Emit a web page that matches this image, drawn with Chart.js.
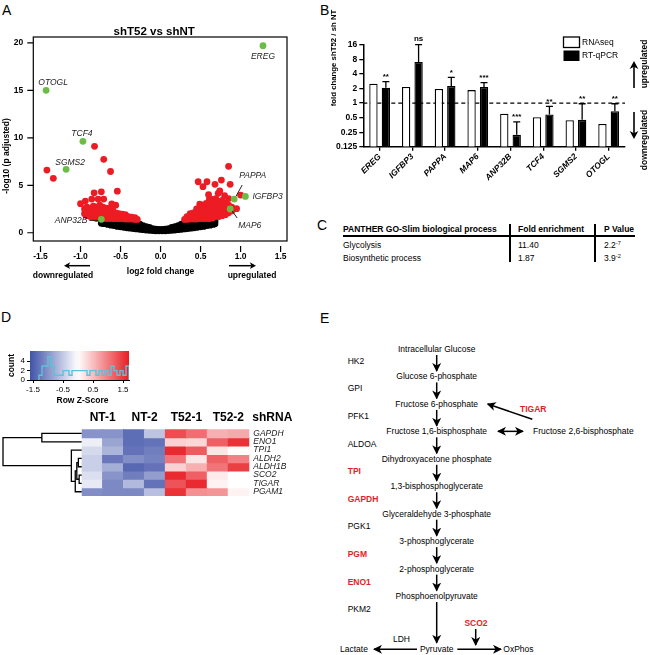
<!DOCTYPE html>
<html>
<head>
<meta charset="utf-8">
<title>shT52 vs shNT</title>
<script src="https://cdn.jsdelivr.net/npm/chart.js@4.4.1/dist/chart.umd.min.js"></script>
<style>
  html, body { margin: 0; padding: 0; background: #fff; }
  body { font-family: "Liberation Sans", Arial, sans-serif; color: #000; }
  #fig { position: relative; width: 650px; height: 655px; overflow: hidden; }
  #fig canvas, #fig svg, .abs { position: absolute; }
  .panel { font-size: 14px; line-height: 14px; }
  .tbl { font-size: 8.5px; line-height: 10px; white-space: nowrap; }
  .tbl sup { font-size: 5.5px; vertical-align: 3px; line-height: 0; }
  .rule { position: absolute; background: #000; }
</style>
</head>
<body>
<div id="fig">
  <div class="abs panel" style="left:2px;top:3px">A</div>
  <div class="abs panel" style="left:320px;top:3px">B</div>
  <div class="abs panel" style="left:317px;top:218px">C</div>
  <div class="abs panel" style="left:1px;top:310px">D</div>
  <div class="abs panel" style="left:320px;top:311px">E</div>

  <canvas id="volcano" width="300" height="290" style="left:0;top:0"></canvas>
  <canvas id="foldBars" width="320" height="220" style="left:330px;top:0"></canvas>

  <div id="goTable"></div>
  <div class="rule" style="left:343px;top:235px;width:292px;height:2px"></div>
  <div class="rule" style="left:509px;top:224px;width:1.5px;height:38px"></div>
  <div class="rule" style="left:594px;top:224px;width:1.5px;height:38px"></div>

  <canvas id="zKey" width="140" height="70" style="left:0;top:340px"></canvas>
  <canvas id="heatmap" width="300" height="100" style="left:0;top:405px"></canvas>

  <svg id="pathway" width="320" height="355" viewBox="330 300 320 355" style="left:330px;top:300px">
    <defs>
      <marker id="head" markerUnits="userSpaceOnUse" markerWidth="9" markerHeight="9" refX="8" refY="4.5" orient="auto-start-reverse">
        <path d="M0,0 L9,4.5 L0,9 L2.5,4.5 z" fill="#000"/>
      </marker>
    </defs>
  </svg>
</div>

<script>
// ---------- A: volcano plot ----------
const volcanoGenes = ['EREG', 'OTOGL', 'TCF4', 'SGMS2', 'ANP32B', 'PAPPA', 'IGFBP3', 'MAP6'];
const geneLog2FC = [1.28, -1.43, -0.97, -1.18, -0.74, 0.92, 1.06, 0.87];
const geneNegLogP = [19.7, 15.0, 9.63, 6.68, 1.41, 3.55, 3.83, 2.5];

const redPoints = [
  [-1.42,6.6],[-1.34,5.73],[-0.825,9.1],[-0.71,7.73],[-0.625,6.45],[-0.54,4.38],[-0.83,4.21],[-0.74,4.31],
  [-0.78,3.55],[-0.71,3.55],[-0.86,3.55],[-1.0,3.06],[-0.94,3.34],[-0.61,3.05],[-0.56,2.9],
  [-0.95,2.0],[-0.95,2.5],[-0.92,1.8],[-0.92,2.3],[-0.92,2.7],[-0.88,1.7],[-0.88,2.1],[-0.88,2.5],
  [-0.84,1.6],[-0.84,2.0],[-0.84,2.4],[-0.84,2.8],[-0.80,1.5],[-0.80,1.9],[-0.80,2.3],[-0.80,2.7],
  [-0.76,1.6],[-0.76,2.0],[-0.76,2.4],[-0.76,2.9],[-0.72,1.55],[-0.72,1.9],[-0.72,2.3],[-0.72,2.7],
  [-0.68,1.5],[-0.68,1.85],[-0.68,2.2],[-0.68,2.6],[-0.64,1.5],[-0.64,1.8],[-0.64,2.2],[-0.64,2.6],
  [-0.60,1.5],[-0.60,1.8],[-0.60,2.2],[-0.60,2.5],[-0.56,1.5],[-0.56,1.75],[-0.56,2.1],
  [-0.52,1.5],[-0.52,1.7],[-0.52,2.0],[-0.48,1.5],[-0.48,1.7],[-0.48,1.95],[-0.44,1.45],[-0.44,1.7],[-0.44,1.9],
  [-0.40,1.45],[-0.40,1.7],[-0.36,1.45],[-0.36,1.65],[-0.32,1.4],[-0.32,1.6],[-0.29,1.4],
  [0.30,1.4],[0.33,1.4],[0.33,1.7],[0.37,1.45],[0.37,1.75],[0.37,2.0],[0.41,1.45],[0.41,1.75],[0.41,2.1],
  [0.45,1.45],[0.45,1.8],[0.45,2.2],[0.45,2.5],[0.49,1.5],[0.49,1.8],[0.49,2.2],[0.49,2.6],[0.49,3.0],
  [0.53,1.5],[0.53,1.8],[0.53,2.2],[0.53,2.6],[0.53,2.9],[0.57,1.5],[0.57,1.85],[0.57,2.25],[0.57,2.65],[0.57,3.1],
  [0.61,1.5],[0.61,1.85],[0.61,2.25],[0.61,2.65],[0.61,3.0],[0.61,3.5],
  [0.65,1.55],[0.65,1.9],[0.65,2.3],[0.65,2.7],[0.65,3.1],[0.65,3.5],
  [0.69,1.7],[0.69,2.0],[0.69,2.4],[0.69,2.8],[0.69,3.2],[0.69,3.6],
  [0.73,1.7],[0.73,2.1],[0.73,2.5],[0.73,2.9],[0.73,3.3],[0.77,1.8],[0.77,2.2],[0.77,2.6],[0.77,3.0],[0.77,3.4],
  [0.81,1.9],[0.81,2.3],[0.81,2.7],[0.81,3.1],[0.85,2.1],[0.85,2.5],[0.85,2.9],[0.89,2.3],[0.89,2.7],
  [0.47,5.37],[0.58,5.37],[0.53,4.85],[0.76,5.55],[0.68,5.1],[0.87,5.1],[0.72,4.15],[0.74,4.4],[0.85,7.0],
  [0.95,2.53],[1.0,3.97],[0.85,3.6],[0.60,4.0],[0.80,3.9]
];

const blackPoints = [
  [-0.74,1.0],[-0.74,1.3],[-0.72,1.0],[-0.72,1.28],[-0.70,0.95],[-0.70,1.25],
  [-0.66,0.88],[-0.66,1.08],[-0.66,1.28],[-0.62,0.8],[-0.62,1.05],[-0.62,1.3],
  [-0.58,0.75],[-0.58,1.0],[-0.58,1.25],[-0.54,0.67],[-0.54,0.95],[-0.54,1.25],
  [-0.50,0.62],[-0.50,0.92],[-0.50,1.22],[-0.46,0.57],[-0.46,0.87],[-0.46,1.2],
  [-0.42,0.52],[-0.42,0.85],[-0.42,1.2],[-0.38,0.48],[-0.38,0.8],[-0.38,1.15],
  [-0.34,0.44],[-0.34,0.75],[-0.34,1.1],[-0.30,0.4],[-0.30,0.7],[-0.30,1.05],
  [-0.26,0.36],[-0.26,0.62],[-0.26,0.9],[-0.22,0.32],[-0.22,0.55],[-0.22,0.75],
  [-0.18,0.29],[-0.18,0.5],[-0.18,0.65],[-0.14,0.26],[-0.14,0.45],[-0.14,0.55],
  [-0.10,0.23],[-0.10,0.42],[-0.06,0.21],[-0.06,0.38],[-0.02,0.2],[-0.02,0.35],
  [0.02,0.2],[0.02,0.35],[0.06,0.21],[0.06,0.38],[0.10,0.23],[0.10,0.42],
  [0.14,0.26],[0.14,0.45],[0.14,0.55],[0.18,0.29],[0.18,0.5],[0.18,0.65],
  [0.22,0.32],[0.22,0.55],[0.22,0.75],[0.26,0.36],[0.26,0.62],[0.26,0.9],
  [0.30,0.4],[0.30,0.7],[0.30,1.05],[0.34,0.44],[0.34,0.75],[0.34,1.1],
  [0.38,0.48],[0.38,0.8],[0.38,1.15],[0.42,0.52],[0.42,0.85],[0.42,1.2],
  [0.46,0.57],[0.46,0.87],[0.46,1.2],[0.50,0.62],[0.50,0.92],[0.50,1.22],
  [0.54,0.67],[0.54,0.95],[0.54,1.25],[0.58,0.75],[0.58,1.0],[0.58,1.25],
  [0.62,0.8],[0.62,1.05],[0.62,1.3],[0.66,0.88],[0.66,1.1],[0.66,1.35],
  [0.68,0.95],[0.68,1.2],[0.68,1.45]
];
const volcanoXTicks = [-1.5, -1, -0.5, 0, 0.5, 1, 1.5];
const volcanoYTicks = [0, 5, 10, 15, 20];

// ---------- B: validation bars ----------
const validatedGenes = ['EREG', 'IGFBP3', 'PAPPA', 'MAP6', 'ANP32B', 'TCF4', 'SGMS2', 'OTOGL'];
const rnaseqFold = [2.53, 2.15, 1.97, 1.86, 0.60, 0.51, 0.44, 0.37];
const qpcrFold = [2.09, 7.1, 2.25, 2.15, 0.22, 0.58, 0.45, 0.68];
const qpcrErrTop = [2.78, 16.3, 3.42, 2.65, 0.41, 0.86, 0.97, 0.97];
const significance = ['**', 'ns', '*', '***', '***', '**', '**', '**'];
const foldTicks = [0.125, 0.25, 0.5, 1, 2, 4, 8, 16];

// ---------- C: GO table ----------
const goTerms = ['Glycolysis', 'Biosynthetic process'];
const goFold = ['11.40', '1.87'];
const goPBase = ['2.2', '3.9'];
const goPExp = ['-7', '-2'];

// ---------- D: heatmap ----------
const zKeyTicks = [-1.5, -0.5, 0.5, 1.5];
const countTicks = [0, 2, 4];
const histEdges = [-1.3,-1.2,-1.1,-1.0,-0.9,-0.8,-0.7,-0.6,-0.5,-0.4,-0.3,-0.2,-0.1,0.0,0.1,0.2,0.3,0.4,0.5,0.6,0.7,0.8,0.9,1.0,1.1,1.2,1.3,1.4,1.5,1.6,1.7];
const histCounts = [1,3,3,5,3,1,1,1,2,2,1,2,2,2,2,2,1,2,2,1,2,1,2,1,3,2,1,2,1,3];

const heatGenes = ['GAPDH', 'ENO1', 'TPI1', 'ALDH2', 'ALDH1B', 'SCO2', 'TIGAR', 'PGAM1'];
const heatColumns = ['NT-1 a', 'NT-1 b', 'NT-2 a', 'NT-2 b', 'T52-1 a', 'T52-1 b', 'T52-2 a', 'T52-2 b'];
const heatGroups = ['NT-1', 'NT-2', 'T52-1', 'T52-2'];
const zScores = [
  [-1.0, -1.0, -1.35, -0.55, 1.35, 1.1, 0.6, 0.65],
  [-0.15, -0.85, -1.35, -1.3, 0.35, 0.3, 1.2, 1.55],
  [-0.35, -0.7, -1.3, -1.2, 1.6, 1.25, 0.2, 0.02],
  [-0.45, -1.25, -1.05, -1.15, 1.05, 0.2, 1.2, 0.95],
  [-0.45, -0.75, -1.4, -1.3, 0.35, 0.6, 1.05, 1.45],
  [-0.3, -1.0, -1.2, -0.9, 1.6, 1.2, 0.15, 0.0],
  [-0.2, -1.1, -0.65, -1.3, 1.3, 1.6, 0.1, 0.0],
  [-1.05, -1.1, -1.1, -0.6, 1.55, 0.85, 0.8, 0.1]
];
// hclust-style merges: negative = leaf (1-based row), positive = earlier merge
const dendroLeft = [-6, -4, 2, 3, -3, -1, 6];
const dendroRight = [-7, -5, 1, -8, 4, -2, 5];
const dendroHeight = [0.02, 0.03, 0.05, 0.07, 0.12, 0.5, 1.0];

// ---------- E: pathway ----------
const metabolites = ['Intracellular Glucose', 'Glucose 6-phosphate', 'Fructose 6-phosphate', 'Fructose 1,6-bisphosphate',
  'Dihydroxyacetone phosphate', '1,3-bisphosphoglycerate', 'Glyceraldehyde 3-phosphate', '3-phosphoglycerate',
  '2-phosphoglycerate', 'Phosphoenolpyruvate'];
const enzymes = ['HK2', 'GPI', 'PFK1', 'ALDOA', 'TPI', 'GAPDH', 'PGK1', 'PGM', 'ENO1', 'PKM2'];
const enzymeChanged = [false, false, false, false, true, true, false, true, true, false];

const FONT = '"Liberation Sans", Arial, sans-serif';
Chart.defaults.font.family = FONT;
Chart.defaults.color = '#000';

function zColor(z) {
  const t = Math.max(-1, Math.min(1, z / 1.7));
  const end = t < 0 ? [52, 72, 163] : [232, 30, 36];
  const a = Math.abs(t);
  const c = end.map(v => Math.round(255 + (v - 255) * a));
  return 'rgb(' + c.join(',') + ')';
}

function arrow(ctx, x1, y1, x2, y2, head) {
  const ang = Math.atan2(y2 - y1, x2 - x1);
  ctx.beginPath();
  ctx.moveTo(x1, y1);
  ctx.lineTo(x2 - Math.cos(ang) * head * 0.6, y2 - Math.sin(ang) * head * 0.6);
  ctx.stroke();
  ctx.beginPath();
  ctx.moveTo(x2, y2);
  ctx.lineTo(x2 - head * Math.cos(ang - 0.5), y2 - head * Math.sin(ang - 0.5));
  ctx.lineTo(x2 - head * 0.65 * Math.cos(ang), y2 - head * 0.65 * Math.sin(ang));
  ctx.lineTo(x2 - head * Math.cos(ang + 0.5), y2 - head * Math.sin(ang + 0.5));
  ctx.closePath();
  ctx.fill();
}

const geneLabelOffsets = {
  EREG: { dx: 0, dy: 11, align: 'center' },
  OTOGL: { dx: 7, dy: -8, align: 'center' },
  TCF4: { dx: -1, dy: -8, align: 'center' },
  SGMS2: { dx: 4, dy: -7, align: 'center' },
  ANP32B: { dx: -14, dy: 1, align: 'right', line: [-12, 1, -3, 1] },
  PAPPA: { dx: 5, dy: -23, align: 'left', line: [2, -3, 8, -14] },
  IGFBP3: { dx: 7, dy: 0, align: 'left' },
  MAP6: { dx: 8, dy: 17, align: 'left', line: [2, 2, 7, 9] }
};

const volcanoDecor = {
  id: 'volcanoDecor',
  afterDraw(chart) {
    const { ctx, chartArea: a, scales: { x, y } } = chart;
    ctx.save();
    ctx.strokeStyle = '#000';
    ctx.fillStyle = '#000';
    ctx.lineWidth = 1.2;
    ctx.strokeRect(a.left, a.top, a.right - a.left, a.bottom - a.top);
    ctx.beginPath();
    x.ticks.forEach(t => {
      const px = x.getPixelForValue(t.value);
      ctx.moveTo(px, a.bottom + 5); ctx.lineTo(px, a.bottom + 11);
    });
    y.ticks.forEach(t => {
      const py = y.getPixelForValue(t.value);
      ctx.moveTo(a.left - 6, py); ctx.lineTo(a.left, py);
    });
    ctx.stroke();

    ctx.textAlign = 'center';
    ctx.textBaseline = 'alphabetic';
    ctx.font = 'bold 11.5px ' + FONT;
    ctx.fillText('shT52 vs shNT', (a.left + a.right) / 2 - 6, a.top - 2);

    ctx.font = 'bold 8.5px ' + FONT;
    ctx.textBaseline = 'middle';
    ctx.fillText('log2 fold change', x.getPixelForValue(0), 272);
    ctx.fillText('downregulated', 63, 276);
    ctx.fillText('upregulated', 252, 276);
    ctx.lineWidth = 1.5;
    arrow(ctx, 90, 265.7, 64, 265.7, 7);
    arrow(ctx, 229, 265.7, 256, 265.7, 7);
    ctx.save();
    ctx.translate(7, 156);
    ctx.rotate(-Math.PI / 2);
    ctx.fillText('-log10 (p adjusted)', 0, 0);
    ctx.restore();

    ctx.font = 'italic 8.5px ' + FONT;
    ctx.fillStyle = '#222';
    ctx.strokeStyle = '#222';
    ctx.lineWidth = 1;
    volcanoGenes.forEach((g, i) => {
      const px = x.getPixelForValue(geneLog2FC[i]);
      const py = y.getPixelForValue(geneNegLogP[i]);
      const o = geneLabelOffsets[g];
      ctx.textAlign = o.align;
      ctx.fillText(g, px + o.dx, py + o.dy);
      if (o.line) {
        ctx.beginPath();
        ctx.moveTo(px + o.line[0], py + o.line[1]);
        ctx.lineTo(px + o.line[2], py + o.line[3]);
        ctx.stroke();
      }
    });
    ctx.restore();
  }
};

new Chart(document.getElementById('volcano'), {
  type: 'scatter',
  data: {
    datasets: [
      { label: 'validated genes', data: volcanoGenes.map((g, i) => ({ x: geneLog2FC[i], y: geneNegLogP[i] })),
        backgroundColor: '#6cbd45', pointRadius: 3.4, pointBorderWidth: 0 },
      { label: 'padj < 0.05', data: redPoints.map(p => ({ x: p[0], y: p[1] })),
        backgroundColor: '#ec1c24', pointRadius: 3.4, pointBorderWidth: 0 },
      { label: 'not significant', data: blackPoints.map(p => ({ x: p[0], y: p[1] })),
        backgroundColor: '#000', pointRadius: 3.4, pointBorderWidth: 0 }
    ]
  },
  options: {
    responsive: false, animation: false, devicePixelRatio: 1, events: [],
    layout: { padding: { top: 37, right: 13 } },
    plugins: { legend: { display: false }, tooltip: { enabled: false } },
    scales: {
      x: {
        type: 'linear', min: -1.59, max: 1.58,
        afterBuildTicks: s => { s.ticks = volcanoXTicks.map(v => ({ value: v })); },
        afterFit: s => { s.height = 49; },
        grid: { display: false, drawTicks: false }, border: { display: false },
        ticks: { autoSkip: false, padding: 11, font: { size: 8.5, weight: 'bold' }, callback: v => v.toFixed(1) }
      },
      y: {
        type: 'linear', min: -0.87, max: 20.62,
        afterBuildTicks: s => { s.ticks = volcanoYTicks.map(v => ({ value: v })); },
        afterFit: s => { s.width = 33.3; },
        grid: { display: false, drawTicks: false }, border: { display: false },
        ticks: { autoSkip: false, padding: 10, font: { size: 8.5, weight: 'bold' } }
      }
    }
  },
  plugins: [volcanoDecor]
});

// ---------- B ----------
const foldDecor = {
  id: 'foldDecor',
  beforeDatasetsDraw(chart) {
    const { ctx, chartArea: a, scales: { y } } = chart;
    const py = y.getPixelForValue(1);
    ctx.save();
    ctx.setLineDash([4, 3]);
    ctx.lineWidth = 1.4;
    ctx.strokeStyle = '#000';
    ctx.beginPath(); ctx.moveTo(a.left, py); ctx.lineTo(a.right, py); ctx.stroke();
    ctx.restore();
  },
  afterDatasetsDraw(chart) {
    const { ctx, scales: { y } } = chart;
    const meta = chart.getDatasetMeta(1);
    ctx.save();
    ctx.strokeStyle = '#000';
    ctx.fillStyle = '#000';
    ctx.lineWidth = 1.3;
    ctx.font = 'bold 8px ' + FONT;
    ctx.textAlign = 'center';
    ctx.textBaseline = 'alphabetic';
    meta.data.forEach((bar, i) => {
      const top = y.getPixelForValue(qpcrErrTop[i]);
      ctx.beginPath();
      ctx.moveTo(bar.x, bar.y); ctx.lineTo(bar.x, top);
      ctx.moveTo(bar.x - 3.5, top); ctx.lineTo(bar.x + 3.5, top);
      ctx.stroke();
      const lab = significance[i];
      ctx.fillText(lab, bar.x, top - (lab === 'ns' ? 3.5 : 2.5));
    });
    ctx.restore();
  },
  afterDraw(chart) {
    const { ctx } = chart;
    const ds = chart.data.datasets;
    ctx.save();
    ctx.lineWidth = 1.3;
    ctx.strokeStyle = '#000';
    ctx.fillStyle = '#fff';
    ctx.fillRect(233.5, 37, 16, 10.5);
    ctx.strokeRect(233.5, 37, 16, 10.5);
    ctx.fillStyle = '#000';
    ctx.fillRect(233.5, 50.5, 16, 10.5);
    ctx.font = '8.5px ' + FONT;
    ctx.textAlign = 'left';
    ctx.textBaseline = 'middle';
    ctx.fillText(ds[0].label, 252, 42.3);
    ctx.fillText(ds[1].label, 252, 55.8);

    ctx.font = 'bold 7.8px ' + FONT;
    ctx.textAlign = 'center';
    ctx.save(); ctx.translate(4, 58); ctx.rotate(-Math.PI / 2);
    ctx.fillText('fold change shT52 / sh NT', 0, 0); ctx.restore();

    ctx.font = 'bold 8.5px ' + FONT;
    ctx.save(); ctx.translate(315, 64); ctx.rotate(-Math.PI / 2);
    ctx.fillText('upregulated', 0, 0); ctx.restore();
    ctx.save(); ctx.translate(315, 140); ctx.rotate(-Math.PI / 2);
    ctx.fillText('downregulated', 0, 0); ctx.restore();
    ctx.lineWidth = 1.6;
    arrow(ctx, 304, 88, 304, 61, 9);
    arrow(ctx, 304, 112, 304, 139, 9);
    ctx.restore();
  }
};

new Chart(document.getElementById('foldBars'), {
  type: 'bar',
  data: {
    labels: validatedGenes,
    datasets: [
      { label: 'RNAseq', data: rnaseqFold, backgroundColor: '#fff', borderColor: '#000', borderWidth: 1.3,
        categoryPercentage: 0.76, barPercentage: 0.67 },
      { label: 'RT-qPCR', data: qpcrFold, backgroundColor: '#000', borderColor: '#000', borderWidth: 1.3,
        categoryPercentage: 0.76, barPercentage: 0.67 }
    ]
  },
  options: {
    responsive: false, animation: false, devicePixelRatio: 1, events: [],
    layout: { padding: { top: 45, right: 25 } },
    plugins: { legend: { display: false }, tooltip: { enabled: false } },
    scales: {
      x: {
        grid: { display: true, drawOnChartArea: false, offset: false, tickLength: 4, color: '#000', lineWidth: 1.3 },
        border: { display: true, color: '#000', width: 1.5 },
        ticks: { autoSkip: false, minRotation: 45, maxRotation: 45, padding: 1,
                 font: { size: 8.5, weight: 'bold', style: 'italic' } },
        afterFit: s => { s.height = 73.3; }
      },
      y: {
        type: 'logarithmic', min: 0.125, max: 16,
        afterBuildTicks: s => { s.ticks = foldTicks.map(v => ({ value: v })); },
        grid: { display: true, drawOnChartArea: false, tickLength: 4, color: '#000', lineWidth: 1.3 },
        border: { display: true, color: '#000', width: 1.5 },
        ticks: { autoSkip: false, padding: 2, font: { size: 8.5, weight: 'bold' }, callback: v => String(v) },
        afterFit: s => { s.width = 33.3; }
      }
    }
  },
  plugins: [foldDecor]
});

// ---------- C ----------
(function buildTable() {
  const host = document.getElementById('goTable');
  const cell = (left, top, html, bold) => {
    const d = document.createElement('div');
    d.className = 'abs tbl';
    d.style.left = left + 'px';
    d.style.top = top + 'px';
    if (bold) d.style.fontWeight = 'bold';
    d.innerHTML = html;
    host.appendChild(d);
  };
  cell(343, 224.3, 'PANTHER GO-Slim biological process', true);
  cell(518, 224.3, 'Fold enrichment', true);
  cell(604, 224.3, 'P Value', true);
  goTerms.forEach((t, i) => {
    const top = 240 + i * 13.3;
    cell(343, top, t);
    cell(518, top, goFold[i]);
    cell(604, top, goPBase[i] + '<sup>' + goPExp[i] + '</sup>');
  });
})();

// ---------- D: colour key ----------
const histPoints = [{ x: histEdges[0], y: 0 }];
histCounts.forEach((c, i) => histPoints.push({ x: histEdges[i], y: c }));
histPoints.push({ x: histEdges[histEdges.length - 1], y: 0 });

const keyDecor = {
  id: 'keyDecor',
  beforeDatasetsDraw(chart) {
    const { ctx, chartArea: a, scales: { x } } = chart;
    const g = ctx.createLinearGradient(a.left, 0, a.right, 0);
    for (let k = 0; k <= 24; k++) {
      g.addColorStop(k / 24, zColor(x.min + (x.max - x.min) * k / 24));
    }
    ctx.save();
    ctx.fillStyle = g;
    ctx.fillRect(a.left, a.top, a.right - a.left, a.bottom - a.top);
    ctx.restore();
  },
  afterDraw(chart) {
    const { ctx, chartArea: a } = chart;
    ctx.save();
    ctx.fillStyle = '#000';
    ctx.font = 'bold 8.5px ' + FONT;
    ctx.textAlign = 'center';
    ctx.textBaseline = 'middle';
    ctx.fillText('Row Z-Score', (a.left + a.right) / 2 + 3, 61);
    ctx.translate(12, (a.top + a.bottom) / 2);
    ctx.rotate(-Math.PI / 2);
    ctx.fillText('count', 0, 0);
    ctx.restore();
  }
};

new Chart(document.getElementById('zKey'), {
  type: 'line',
  data: { datasets: [{ label: 'count', data: histPoints, stepped: true, borderColor: '#5cc3d8',
                       borderWidth: 1.4, pointRadius: 0, fill: false }] },
  options: {
    responsive: false, animation: false, devicePixelRatio: 1, events: [],
    layout: { padding: { top: 11, right: 11 } },
    plugins: { legend: { display: false }, tooltip: { enabled: false } },
    scales: {
      x: {
        type: 'linear', min: -1.6, max: 1.7,
        afterBuildTicks: s => { s.ticks = zKeyTicks.map(v => ({ value: v })); },
        grid: { display: true, drawOnChartArea: false, tickLength: 3, color: '#000' },
        border: { display: true, color: '#000', width: 1 },
        ticks: { autoSkip: false, padding: 2, font: { size: 8 }, callback: v => v.toFixed(1) },
        afterFit: s => { s.height = 30; }
      },
      y: {
        type: 'linear', min: 0, max: 6.2,
        afterBuildTicks: s => { s.ticks = countTicks.map(v => ({ value: v })); },
        grid: { display: true, drawOnChartArea: false, tickLength: 3, color: '#000' },
        border: { display: true, color: '#000', width: 1 },
        ticks: { autoSkip: false, padding: 2, font: { size: 8 } },
        afterFit: s => { s.width = 30; }
      }
    }
  },
  plugins: [keyDecor]
});

// ---------- D: heatmap ----------
const heatDecor = {
  id: 'heatDecor',
  afterDraw(chart) {
    const { ctx, chartArea: a, scales: { x, y } } = chart;
    ctx.save();
    ctx.fillStyle = '#000';
    ctx.font = 'bold 12px ' + FONT;
    ctx.textAlign = 'center';
    ctx.textBaseline = 'middle';
    heatGroups.forEach((g, k) => {
      const cx = (x.getPixelForValue(2 * k) + x.getPixelForValue(2 * k + 1)) / 2;
      ctx.fillText(g, cx, 13);
    });
    ctx.textAlign = 'left';
    ctx.fillText('shRNA', a.right + 3, 13);

    const n = heatGenes.length;
    const leafY = r => y.getPixelForValue(n - 0.5 - r);
    const hx = h => a.left - 1 - h * (a.left - 4);
    const nodes = [];
    const pos = id => (id < 0 ? { x: a.left, y: leafY(-id - 1) } : nodes[id - 1]);
    ctx.strokeStyle = '#000';
    ctx.lineWidth = 1.3;
    ctx.beginPath();
    dendroHeight.forEach((h, m) => {
      const p = pos(dendroLeft[m]);
      const q = pos(dendroRight[m]);
      const nx = hx(h);
      ctx.moveTo(p.x, p.y); ctx.lineTo(nx, p.y); ctx.lineTo(nx, q.y); ctx.lineTo(q.x, q.y);
      nodes.push({ x: nx, y: (p.y + q.y) / 2 });
    });
    ctx.stroke();
    ctx.restore();
  }
};

new Chart(document.getElementById('heatmap'), {
  type: 'bar',
  data: {
    labels: heatColumns,
    datasets: heatGenes.map((g, r) => ({
      label: g,
      data: heatColumns.map(() => [heatGenes.length - 1 - r, heatGenes.length - r]),
      backgroundColor: zScores[r].map(zColor),
      borderWidth: 0, grouped: false, barPercentage: 1, categoryPercentage: 1, inflateAmount: 0.6
    }))
  },
  options: {
    responsive: false, animation: false, devicePixelRatio: 1, events: [],
    layout: { padding: { top: 24.3, left: 81.7, bottom: 5 } },
    plugins: { legend: { display: false }, tooltip: { enabled: false } },
    scales: {
      x: { display: false },
      y: {
        position: 'right', min: 0, max: heatGenes.length,
        afterBuildTicks: s => { s.ticks = heatGenes.map((g, r) => ({ value: heatGenes.length - 0.5 - r })); },
        grid: { display: false, drawTicks: false }, border: { display: false },
        ticks: { autoSkip: false, padding: 4, font: { size: 8.5, style: 'italic' }, color: '#222',
                 callback: v => heatGenes[Math.round(heatGenes.length - 0.5 - v)] },
        afterFit: s => { s.width = 50.7; }
      }
    }
  },
  plugins: [heatDecor]
});

// ---------- E: glycolysis pathway ----------
(function buildPathway() {
  const svg = document.getElementById('pathway');
  const NS = 'http://www.w3.org/2000/svg';
  const el = (tag, attrs, text) => {
    const e = document.createElementNS(NS, tag);
    Object.entries(attrs).forEach(([k, v]) => e.setAttribute(k, v));
    if (text !== undefined) e.textContent = text;
    svg.appendChild(e);
    return e;
  };
  const txt = (x, y, s, opts = {}) => el('text', Object.assign({
    x, y, 'font-family': FONT, 'font-size': 8.5, 'dominant-baseline': 'central', fill: '#000'
  }, opts), s);
  const line = (x1, y1, x2, y2, both) => el('line', Object.assign({
    x1, y1, x2, y2, stroke: '#000', 'stroke-width': 1.5, 'marker-end': 'url(#head)'
  }, both ? { 'marker-start': 'url(#head)' } : {}));

  const cx = 436.7;
  const my = i => 349 + i * 27.45;
  metabolites.forEach((m, i) => {
    txt(cx, my(i), m, { 'text-anchor': 'middle' });
    if (i < metabolites.length - 1) line(cx, my(i) + 6, cx, my(i + 1) - 5.5);
  });
  enzymes.forEach((e, i) => {
    const y = 360.7 + i * 27.6;
    txt(347.7, y, e, enzymeChanged[i] ? { fill: '#e31e24', 'font-weight': 'bold' } : {});
  });

  const pyrY = 649.3;
  line(cx, my(9) + 6, cx, pyrY - 6.5);
  txt(cx, pyrY, 'Pyruvate', { 'text-anchor': 'middle' });
  txt(340, pyrY, 'Lactate');
  line(417, pyrY, 374, pyrY);
  txt(393, 639, 'LDH');
  txt(503.3, pyrY, 'OxPhos');
  line(457.3, pyrY, 501, pyrY);
  txt(476, 622.7, 'SCO2', { 'text-anchor': 'middle', fill: '#e31e24', 'font-weight': 'bold' });
  line(475.7, 629, 475.7, 645);

  txt(533, my(3), 'Fructose 2,6-bisphosphate');
  line(498, my(3), 523, my(3), true);
  txt(520, 409, 'TIGAR', { fill: '#e31e24', 'font-weight': 'bold' });
  line(532.3, 419.3, 487.7, 404);
})();
</script>
</body>
</html>
